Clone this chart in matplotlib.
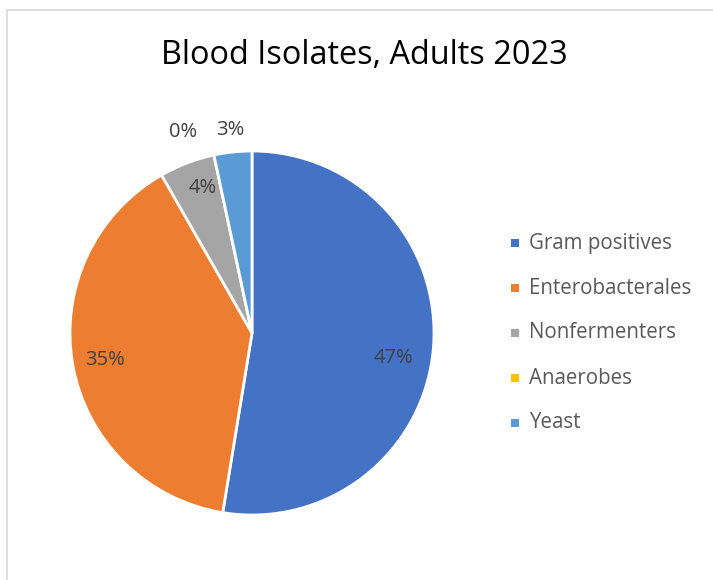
import matplotlib
matplotlib.use("Agg")
import matplotlib.pyplot as plt
import numpy as np
from matplotlib.patches import Rectangle

categories = ["Gram positives", "Enterobacterales", "Nonfermenters", "Anaerobes", "Yeast"]
values = [47, 35, 4.4, 0.0, 3.0]
labels = ["47%", "35%", "4%", "0%", "3%"]
colors = ["#4472C4", "#ED7D31", "#A5A5A5", "#FFC000", "#5B9BD5"]

W, H = 713, 580
fig = plt.figure(figsize=(W / 100, H / 100), dpi=100)
fig.patch.set_facecolor("white")

# chart frame
fig.patches.append(Rectangle((7 / W, -0.1), 1.2, (H - 10) / H + 0.1, transform=fig.transFigure,
                             fill=False, edgecolor="#D9D9D9", linewidth=1.2))

cx, cy, r = 252, 333, 182
ax = fig.add_axes([(cx - r) / W, (H - cy - r) / H, 2 * r / W, 2 * r / H])
wedges, _ = ax.pie(values, colors=colors, startangle=90, counterclock=False, radius=1,
                   wedgeprops=dict(edgecolor="white", linewidth=2))
ax.set_xlim(-1, 1)
ax.set_ylim(-1, 1)
ax.set_aspect("equal")
ax.axis("off")

dists = [0.79, 0.82, 0.84, 1.17, 1.12]
shift = [-5.4, 0, -2, 6.8, 0]
for w, lab, d, s in zip(wedges, labels, dists, shift):
    ang = np.deg2rad((w.theta1 + w.theta2) / 2 + s)
    ax.text(d * np.cos(ang), d * np.sin(ang), lab, ha="center", va="center",
            fontsize=14.5, color="#404040", family="Open Sans", clip_on=False)

fig.text(364 / W, 1 - 55 / H, "Blood Isolates, Adults 2023", ha="center", va="center",
         fontsize=23.4, color="black", family="Open Sans")

ys = [243, 288, 333, 378, 423]
for c, name, y in zip(colors, categories, ys):
    fig.patches.append(Rectangle(((515 - 4) / W, 1 - (y + 4) / H), 8 / W, 8 / H,
                                 transform=fig.transFigure, facecolor=c, edgecolor="none"))
    fig.text(529 / W, 1 - y / H, name, ha="left", va="center", fontsize=14.8,
             color="#595959", family="Open Sans")

fig.savefig("out.png", dpi=100)
